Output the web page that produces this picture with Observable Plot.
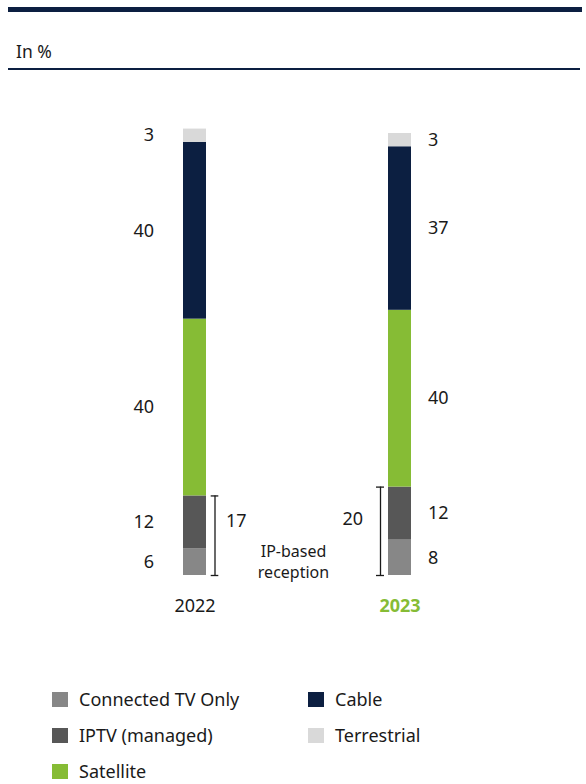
<!DOCTYPE html>
<html>
<head>
<meta charset="utf-8">
<script src="https://cdn.jsdelivr.net/npm/d3@7"></script>
<script src="https://cdn.jsdelivr.net/npm/@observablehq/plot@0.6"></script>
<style>
  html, body { margin: 0; padding: 0; background: #fff; }
  body { width: 586px; height: 784px; position: relative; overflow: hidden;
         font-family: "Noto Sans", "Open Sans", sans-serif; color: #1a1a1a; }
  .abs { position: absolute; }
  .topline { left: 8px; top: 7px; width: 574px; height: 5px; background: #0c1f41; }
  .unitline { left: 8px; top: 68px; width: 572px; height: 2px; background: #0c1f41; }
  .unit { left: 16px; top: 40px; font-size: 17.5px; line-height: 22px; }
  #chart { left: 0; top: 0; }
  .leg { font-size: 18px; line-height: 20px; display: flex; align-items: center; }
  .sw { width: 16px; height: 15px; margin-right: 11px; }
</style>
</head>
<body>
<div class="abs" id="chart"></div>
<div class="abs topline"></div>
<div class="abs unit">In %</div>
<div class="abs unitline"></div>
<div id="legend"></div>
<script>
const years = ["2022", "2023"];
const categories = ["Connected TV Only", "IPTV (managed)", "Satellite", "Cable", "Terrestrial"];
const colors = ["#878787", "#575757", "#86bc35", "#0c1f41", "#d9d9d9"];
const values2022 = [6, 12, 40, 40, 3];
const values2023 = [8, 12, 40, 37, 3];
const ipTotals = [17, 20];
const ipLabelLines = ["IP-based", "reception"];

const valuesByYear = {"2022": values2022, "2023": values2023};
const data = years.flatMap(y => categories.map((c, i) => ({year: y, category: c, value: valuesByYear[y][i]})));
const ipData = years.map((y, k) => ({year: y, top: valuesByYear[y][0] + valuesByYear[y][1], total: ipTotals[k]}));
const ends = ipData.flatMap(d => [{year: d.year, y: 0}, {year: d.year, y: d.top}]);

const ink = "#1a1a1a";
const green = "#86bc35";
const fs = 18;

const plot = Plot.plot({
  width: 586,
  height: 640,
  margin: 0,
  style: {background: "transparent", fontFamily: "'Noto Sans', 'Open Sans', sans-serif", color: ink},
  x: {type: "band", domain: years, range: [183, 411], paddingInner: 0.8878, paddingOuter: 0, round: false, axis: null},
  y: {domain: [0, 100], range: [575, 133], axis: null},
  color: {domain: categories, range: colors},
  marks: [
    Plot.barY(data, {x: "year", y: "value", fill: "category"}),
    Plot.text(data.filter(d => d.year === "2022"), Plot.stackY({
      x: "year", y: "value", text: d => String(d.value), textAnchor: "end", dx: -41, fontSize: fs, fill: ink
    })),
    Plot.text(data.filter(d => d.year === "2023"), Plot.stackY({
      x: "year", y: "value", text: d => String(d.value), textAnchor: "start", dx: 28, fontSize: fs, fill: ink
    })),
    // IP-based brackets
    Plot.ruleX(ipData.filter(d => d.year === "2022"), {x: "year", y1: 0, y2: "top", dx: 20, stroke: ink, strokeWidth: 1.3}),
    Plot.ruleX(ipData.filter(d => d.year === "2023"), {x: "year", y1: 0, y2: "top", dx: -19.5, stroke: ink, strokeWidth: 1.3}),
    Plot.tickY(ends.filter(d => d.year === "2022"), {x: "year", y: "y", dx: 22, insetLeft: 5.7, insetRight: 9.7, stroke: ink, strokeWidth: 1.3}),
    Plot.tickY(ends.filter(d => d.year === "2023"), {x: "year", y: "y", dx: -19.5, insetLeft: 7.5, insetRight: 7.5, stroke: ink, strokeWidth: 1.3}),
    Plot.text(ipData.filter(d => d.year === "2022"), {x: "year", y: d => d.top / 2, text: d => String(d.total), textAnchor: "start", dx: 31, dy: -14, fontSize: fs, fill: ink}),
    Plot.text(ipData.filter(d => d.year === "2023"), {x: "year", y: d => d.top / 2, text: d => String(d.total), textAnchor: "end", dx: -37, dy: -12, fontSize: fs, fill: ink}),
    Plot.text([ipLabelLines[0]], {x: () => "2022", y: () => 0, text: d => d, dx: 98.5, dy: -24, fontSize: 16, fill: ink}),
    Plot.text([ipLabelLines[1]], {x: () => "2022", y: () => 0, text: d => d, dx: 98.5, dy: -3, fontSize: 16, fill: ink}),
    // year labels
    Plot.text(["2022"], {x: d => d, y: () => 0, text: d => d, dy: 31, fontSize: fs, fill: ink}),
    Plot.text(["2023"], {x: d => d, y: () => 0, text: d => d, dy: 31, fontSize: fs, fontWeight: "bold", fill: green})
  ]
});
document.getElementById("chart").appendChild(plot);

// legend (HTML)
const legendPos = [
  {left: 52, top: 689}, {left: 52, top: 725}, {left: 52, top: 761},
  {left: 308, top: 689}, {left: 308, top: 725}
];
const legend = document.getElementById("legend");
categories.forEach((c, i) => {
  const item = document.createElement("div");
  item.className = "abs leg";
  item.style.left = legendPos[i].left + "px";
  item.style.top = legendPos[i].top + "px";
  const sw = document.createElement("span");
  sw.className = "sw";
  sw.style.background = colors[i];
  const t = document.createElement("span");
  t.textContent = c;
  item.appendChild(sw);
  item.appendChild(t);
  legend.appendChild(item);
});
</script>
</body>
</html>
